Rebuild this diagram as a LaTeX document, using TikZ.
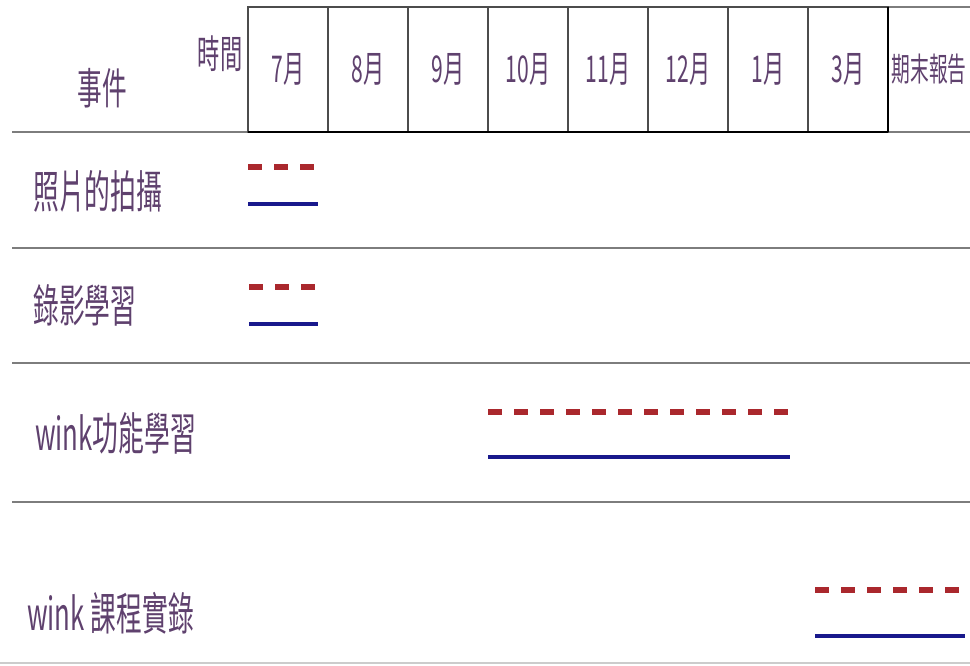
\documentclass[tikz,border=0pt]{standalone}
\usepackage{fontspec}
\setmainfont{Noto Sans CJK TC}
\usetikzlibrary{positioning}
\definecolor{inkc}{RGB}{95,65,110}
\definecolor{planc}{RGB}{170,40,45}
\definecolor{realc}{RGB}{25,25,140}
\definecolor{rulec}{RGB}{125,125,125}
\tikzset{
month/.style={rectangle, anchor=north west, minimum width=2.4cm, minimum height=3.75cm, inner sep=0pt, outer sep=0pt, draw=black!70, line width=0.9pt, text=inkc, font=\fontsize{18}{18}\selectfont},
rowlabel/.style={anchor=west, inner sep=0pt, text=inkc, font=\fontsize{22}{22}\selectfont},
sep/.style={draw=rulec, line width=2pt},
plan/.style={draw=planc, line width=5pt, dash pattern=on 0.42cm off 0.36cm},
real/.style={draw=realc, line width=4.2pt}
}
\newcommand{\tallt}[1]{\scalebox{1}[1.75]{#1}}

\begin{document}
\begin{tikzpicture}[x=0.03cm, y=-0.03cm]
        \useasboundingbox (0,0) rectangle (970,665);
        % row separators
        \foreach \yy in {132,248,363,502} \draw[sep] (12,\yy) -- (970,\yy);
        \draw[draw=black!20, line width=1pt] (0,663) -- (970,663);
        % header
        \draw[draw=rulec, line width=1pt] (248,7) -- (970,7);
        \foreach \m [count=\i from 0] in {7月,8月,9月,10月,11月,12月,1月,3月}
                \node[month] (m\i) at ({248+80*\i},7) {\tallt{\m}};
        \node[month, draw=none, minimum width=2.46cm, right=0pt of m7] (report) {\fontsize{16}{16}\selectfont\tallt{期末報告}};
        \draw[black, line width=2.2pt] (m0.south west) -- (m7.south east);
        \draw[black, line width=1.6pt] (m7.north east) -- (m7.south east);
        \node[rowlabel, anchor=center, font=\fontsize{21}{21}\selectfont] (event) at (102,88) {\tallt{事件}};
        \node[rowlabel, anchor=center, font=\fontsize{19}{19}\selectfont] (time) at (220,54) {\tallt{時間}};
        % events
        \node[rowlabel] (photo) at (33,191) {\tallt{照片的拍攝}};
        \node[rowlabel] (video) at (33,305) {\tallt{錄影學習}};
        \node[rowlabel] (func) at (35,433) {\tallt{wink功能學習}};
        \node[rowlabel] (course) at (27,613) {\tallt{wink 課程實錄}};
        % bars
        \foreach \xa/\xb/\ya/\yb in {248/318/167/204, 249/318/287/324, 488/790/412/457, 815/965/590/636}{
                \draw[plan] (\xa,\ya) -- (\xb,\ya);
                \draw[real] (\xa,\yb) -- (\xb,\yb);
        }
    \end{tikzpicture}
\end{document}
